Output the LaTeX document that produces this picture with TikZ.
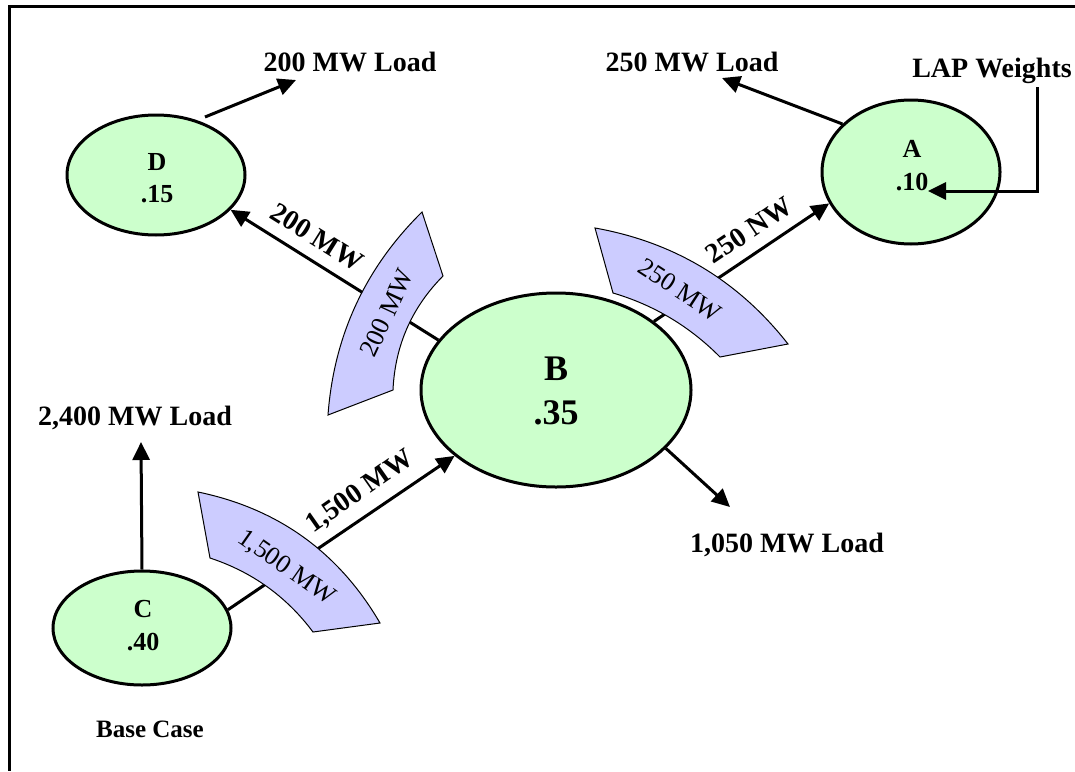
\documentclass[tikz,border=0pt]{standalone}
\usepackage{fontspec}
\setmainfont{Liberation Serif}
\usetikzlibrary{arrows.meta,shapes.geometric}
\definecolor{ngreen}{HTML}{CCFFCC}
\definecolor{bblue}{HTML}{CCCCFF}
\tikzset{
  area/.style={ellipse, draw=black, line width=3pt, fill=ngreen, inner sep=0pt},
  arr/.style={line width=3pt, -{Triangle[length=18pt,width=17pt]}},
  lbl/.style={font=\bfseries\fontsize{28}{32}\selectfont, inner sep=0pt},
  small/.style={font=\bfseries\fontsize{25}{29}\selectfont, inner sep=0pt},
  ntxt/.style={font=\bfseries\fontsize{26}{30}\selectfont, inner sep=0pt, anchor=base},
  btxt/.style={font=\bfseries\fontsize{36}{40}\selectfont, inner sep=0pt, anchor=base},
  blk/.style={draw=black, line width=1pt, fill=bblue},
  blktxt/.style={font=\fontsize{26}{30}\selectfont, inner sep=0pt},
}
\begin{document}
\begin{tikzpicture}[x=1pt,y=-1pt]
\useasboundingbox (0,0) rectangle (1075,771);
% frame
\draw[line width=3pt] (1075,6) -- (9,6) -- (9,771);

% areas
\node[area, minimum width=178pt, minimum height=120pt] (D) at (156,175) {};
\node[area, minimum width=178pt, minimum height=144pt] (A) at (911,172) {};
\node[area, minimum width=270pt, minimum height=194pt] (B) at (556,390) {};
\node[area, minimum width=178pt, minimum height=114pt] (C) at (142,628) {};

\node[ntxt] (Dn) at (157,170) {D};
\node[ntxt] (Dw) at (157,202) {.15};
\node[ntxt] (An) at (912,157) {A};
\node[ntxt] (Aw) at (912,190) {.10};
\node[btxt] (Bn) at (556,380) {B};
\node[btxt] (Bw) at (556,424) {.35};
\node[ntxt] (Cn) at (143,617) {C};
\node[ntxt] (Cw) at (143,650) {.40};

% free labels
\node[lbl, anchor=base] (t200) at (350,71) {200 MW Load};
\node[lbl, anchor=base] (t250) at (692,71) {250 MW Load};
\node[lbl, anchor=base] (tlap) at (992,77) {LAP Weights};
\node[lbl, anchor=base] (t2400) at (135,425) {2,400 MW Load};
\node[lbl, anchor=base] (t1050) at (787,552) {1,050 MW Load};
\node[small, anchor=base] (tbase) at (150,737) {Base Case};

% connector end points
\coordinate (d1) at (205,117);
\coordinate (d2) at (296,80);
\coordinate (a2) at (722,78);
\coordinate (l1) at (1037,87);
\coordinate (l2) at (1037,191);
\coordinate (l3) at (928,191);
\coordinate (b2) at (730,507);
\coordinate (c2) at (141,442);

% connectors
\draw[arr] (d1) -- (d2);
\draw[arr] (A.145) -- (a2);
\draw[arr] (l1) -- (l2) -- (l3);
\draw[arr] (B.157) -- (D.-25);
\draw[arr] (B.35) -- (A.201);
\draw[arr] (C.12) -- (B.213);
\draw[arr] (B.-28) -- (b2);
\draw[arr] (C.north) -- (c2);

% flow labels
\node[lbl, rotate=-32] (f200) at (317,237) {200 MW};
\node[lbl, rotate=34] (f250) at (749,230) {250 NW};
\node[lbl, rotate=35] (f1500) at (360,492) {1,500 MW};

% curved block arrows
\draw[blk] (422,212) -- (443,276) .. controls (411.7,307.6) and (395,345.6) .. (393,390)
  -- (328,415) .. controls (333.9,335.6) and (365.3,267.9) .. cycle;
\node[blktxt, rotate=65] (g200) at (387,313) {200 MW};

\draw[blk] (595,228) .. controls (674.1,242.1) and (738.4,280.7) .. (788,344) -- (720,357)
  .. controls (689.8,326.5) and (654.1,305.1) .. (613,293) -- cycle;
\node[blktxt, rotate=-33] (g250) at (680,290) {250 MW};

\draw[blk] (198,492) .. controls (278.1,508.6) and (338.8,552.3) .. (380,623) -- (313,632)
  .. controls (286.5,596.5) and (252.1,571.9) .. (210,558) -- cycle;
\node[blktxt, rotate=-35] (g1500) at (286,568) {1,500 MW};
\end{tikzpicture}
\end{document}
